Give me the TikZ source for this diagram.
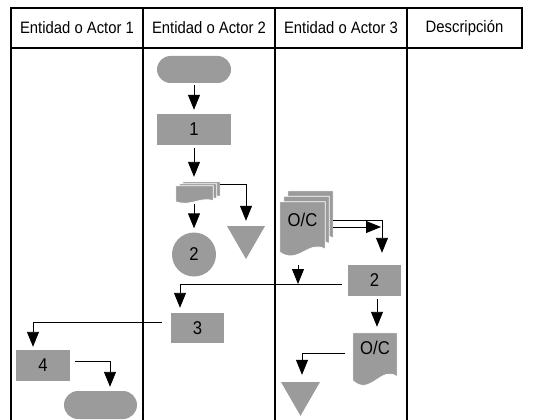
\documentclass[tikz,border=0pt]{standalone}
\usepackage{fontspec}
\setmainfont{Liberation Sans}
\newfontfamily\narrowsans[FakeStretch=0.9]{Liberation Sans}
\usetikzlibrary{arrows.meta,shapes.geometric,calc,backgrounds}

\definecolor{shapegray}{RGB}{155,155,155}

% document symbol with a wavy lower edge, drawn round a named node
% #1 = node name, #2 = depth of the wave below the node
\newcommand{\docshape}[2]{%
  \fill[shapegray,draw=white,line width=0.8pt]
    (#1.north west) -- (#1.north east)
    -- ($(#1.south east)+(0,0.55*#2)$)
    .. controls ($(#1.south east)!0.35!(#1.south west)+(0,0.05*#2)$)
            and ($(#1.south east)!0.6!(#1.south west)+(0,1.35*#2)$)
    .. ($(#1.south west)+(0,0.7*#2)$) -- cycle;}

\begin{document}
\begin{tikzpicture}[x=1pt,y=-1pt,
    lane/.style={line width=1.1pt},
    head/.style={font=\narrowsans\fontsize{16.5}{19}\selectfont},
    proc/.style={rectangle,fill=shapegray,inner sep=0pt,font=\narrowsans\fontsize{18.5}{21}\selectfont},
    term/.style={rectangle,rounded corners=13.5pt,fill=shapegray,inner sep=0pt,
                 minimum height=27pt},
    docbox/.style={rectangle,inner sep=0pt,font=\narrowsans\fontsize{18.5}{21}\selectfont},
    store/.style={regular polygon,regular polygon sides=3,shape border rotate=180,
                  fill=shapegray,inner sep=0pt,minimum size=44pt},
    conn/.style={line width=0.9pt,-{Triangle[length=15pt,width=12pt]},shorten >=4pt}]
  \useasboundingbox (0,0) rectangle (533,420);

  % Draw header row and lane borders
  \draw[lane] (11,8) rectangle (522,48);
  \foreach \x in {11,143,275,407}
    \draw[lane] (\x,8) -- (\x,420);
  \node[head] (h1) at (77,28) {Entidad o Actor 1};
  \node[head] (h2) at (209,28) {Entidad o Actor 2};
  \node[head] (h3) at (341,28) {Entidad o Actor 3};
  \node[head] (h4) at (464.5,28) {Descripción};

  % Lane 2
  \node[term,minimum width=74pt] (start) at (194,69.5) {};
  \node[proc,minimum width=74pt,minimum height=31pt] (p1) at (194,129.5) {1};
  \node[docbox,minimum width=37pt,minimum height=10pt] (docsback) at (201.5,187) {};
  \node[docbox,minimum width=37pt,minimum height=10pt] (docsmid) at (198,189) {};
  \node[docbox,minimum width=37pt,minimum height=10pt] (docs) at (194.5,191) {};
  \node[store] (store1) at (246,237) {};
  \node[circle,fill=shapegray,inner sep=0pt,minimum size=44pt,
        font=\narrowsans\fontsize{18.5}{21}\selectfont] (c2) at (194,254.5) {2};
  \node[proc,minimum width=53pt,minimum height=30pt] (p3) at (197.5,328) {3};

  % Lane 3
  \node[docbox,minimum width=45pt,minimum height=36pt] (oc1back) at (310.5,209) {};
  \node[docbox,minimum width=45pt,minimum height=36pt] (oc1mid) at (306.5,214.5) {};
  \node[docbox,minimum width=45pt,minimum height=36pt] (oc1) at (302.5,220) {O/C};
  \node[proc,minimum width=53pt,minimum height=31pt] (p2) at (374.5,280.5) {2};
  \node[docbox,minimum width=44pt,minimum height=30pt] (oc2) at (375,348) {O/C};
  \node[store,minimum size=45pt] (store2) at (300.5,393.3) {};

  % Lane 1
  \node[proc,minimum width=54pt,minimum height=31pt] (p4) at (43,365.5) {4};
  \node[term,minimum width=73pt,minimum height=28pt,rounded corners=14pt] (stop) at (100.5,405) {};

  % Document outlines go under their labels
  \begin{pgfonlayer}{background}
    \docshape{docsback}{8}
    \docshape{docsmid}{8}
    \docshape{docs}{8}
    \docshape{oc1back}{20}
    \docshape{oc1mid}{20}
    \docshape{oc1}{20}
    \docshape{oc2}{25}
  \end{pgfonlayer}

  % Connectors
  \coordinate (p2in) at ([xshift=7.5pt]p2.north);
  \coordinate (p2out) at ([yshift=-3.5pt]p2.west);
  \coordinate (p3in) at ([xshift=-17.5pt]p3.north);
  \coordinate (ocb) at ($(oc1.east -| oc1back.east)+(0,7)$);
  \coordinate (ocdrop) at ($(oc1.south)+(-4.5,27)$);

  \draw[conn,shorten <=2pt] (start) -- (p1);
  \draw[conn,shorten <=3pt,shorten >=9pt] (p1) -- (p1 |- docs.north);
  \draw[conn,shorten <=8pt] (c2 |- docs.south) -- (c2);
  \draw[conn,shorten >=5pt] ([yshift=-3pt]docsback.north east) -| (store1.north);
  \draw[conn,shorten >=12pt] (oc1.east -| oc1back.east) -| (p2in);
  \draw[conn,shorten >=1pt] (ocb) -- (ocb -| p2in);
  \draw[conn,shorten >=0pt] (ocdrop) -- (ocdrop |- p2out);
  \draw[conn,shorten <=6pt,shorten >=5pt] (p2out) -| (p3in);
  \draw[conn,shorten <=3pt,shorten >=6pt] ([xshift=2.5pt]p2.south) -- ([xshift=2.5pt]p2.south |- oc2.north);
  \draw[conn,shorten <=8pt,shorten >=7pt] ([yshift=-5pt]oc2.west) -| ([xshift=1.5pt]store2.north);
  \draw[conn,shorten <=9pt,shorten >=3pt] ([yshift=6pt]p3.west) -| ([xshift=-10pt]p4.north);
  \draw[conn,shorten <=5pt] ([yshift=4.5pt]p4.east) -| ([xshift=9.5pt]stop.north);
\end{tikzpicture}
\end{document}
